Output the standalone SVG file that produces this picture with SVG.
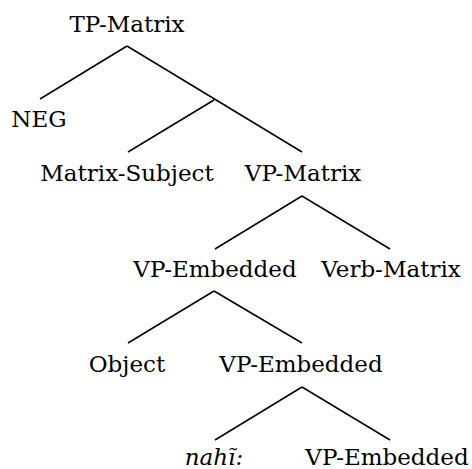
<svg xmlns="http://www.w3.org/2000/svg" width="472" height="469" viewBox="0 0 472 469">
<style>
text{font-family:"DejaVu Serif","Liberation Serif",serif;font-size:23px;fill:#000;text-anchor:middle}
.it{font-style:italic}
.e{stroke:#000;stroke-width:1.5;fill:none}
</style>
<rect width="472" height="469" fill="#fff"/>
<g id="connectors">
<path class="e" d="M127 46 L40 99 M127 46 L302 152 M214 100 L128 152"/>
<path class="e" d="M302 196 L215 249 M302 196 L390 249"/>
<path class="e" d="M214 291 L128 343 M214 291 L302 343"/>
<path class="e" d="M302 387 L215 440 M302 387 L390 440"/>
</g>
<g id="tp-matrix"><text x="127" y="32">TP-Matrix</text></g>
<g id="neg"><text x="39" y="127">NEG</text></g>
<g id="matrix-subject"><text x="127" y="181">Matrix-Subject</text></g>
<g id="vp-matrix"><text x="303" y="181">VP-Matrix</text></g>
<g id="vp-embedded-1"><text x="215" y="277">VP-Embedded</text></g>
<g id="verb-matrix"><text x="391" y="277">Verb-Matrix</text></g>
<g id="object"><text x="127" y="372">Object</text></g>
<g id="vp-embedded-2"><text x="301" y="372">VP-Embedded</text></g>
<g id="nahi"><text class="it" x="214" y="465">nahĩ:</text></g>
<g id="vp-embedded-3"><text x="387" y="465">VP-Embedded</text></g>
</svg>
